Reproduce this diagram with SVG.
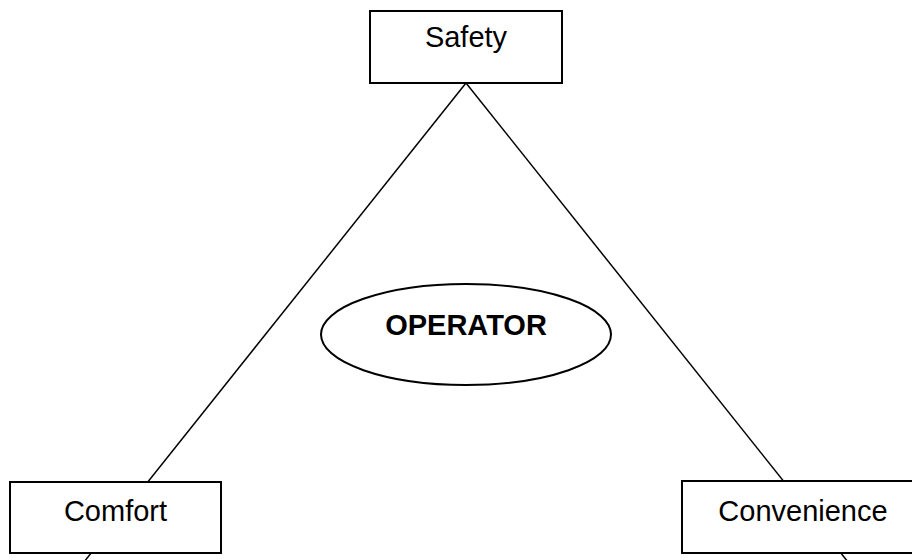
<svg xmlns="http://www.w3.org/2000/svg" width="912" height="560" viewBox="0 0 912 560">
<style>
.box{fill:#fff;stroke:#000;stroke-width:2}
.lbl{font-family:"Liberation Sans",Arial,sans-serif;font-size:29px;fill:#000;text-anchor:middle}
.bold{font-weight:bold}
.conn{stroke:#000;stroke-width:1.5;fill:none}
</style>
<rect width="912" height="560" fill="#fff"/>
<g id="connectors">
<line class="conn" x1="466" y1="83" x2="80" y2="567"/>
<line class="conn" x1="466" y1="83" x2="852" y2="567"/>
</g>
<g id="safety">
<rect class="box" x="370" y="11" width="192" height="72"/>
<text class="lbl" x="466" y="47">Safety</text>
</g>
<g id="operator">
<ellipse class="box" cx="466" cy="334.5" rx="145" ry="50.5"/>
<text class="lbl bold" x="466" y="335">OPERATOR</text>
</g>
<g id="comfort">
<rect class="box" x="10" y="482" width="211" height="71"/>
<text class="lbl" x="115.5" y="521">Comfort</text>
</g>
<g id="convenience">
<rect class="box" x="682" y="481" width="242" height="72"/>
<text class="lbl" x="803" y="521">Convenience</text>
</g>
</svg>
